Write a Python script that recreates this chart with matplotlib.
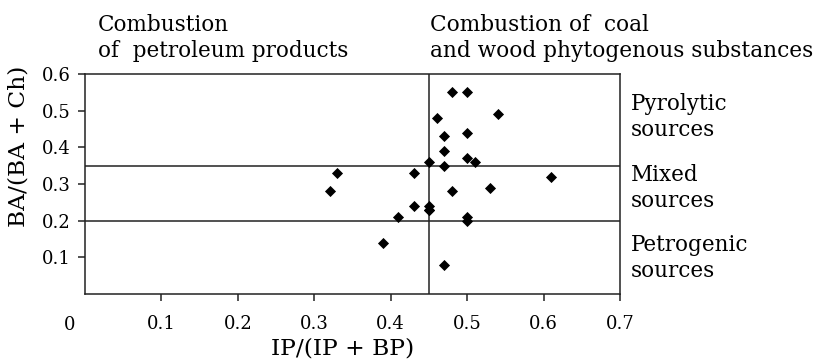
import matplotlib
matplotlib.use("Agg")
import matplotlib.pyplot as plt

# IP/(IP+BP) vs BA/(BA+Ch) diagnostic ratios
ip_ratio = [0.48, 0.50, 0.54, 0.46, 0.47, 0.50, 0.47, 0.50, 0.51, 0.45,
            0.47, 0.33, 0.43, 0.61, 0.32, 0.48, 0.53, 0.43, 0.45, 0.45,
            0.41, 0.50, 0.50, 0.39, 0.47, 0.45]
ba_ratio = [0.55, 0.55, 0.49, 0.48, 0.43, 0.44, 0.39, 0.37, 0.36, 0.36,
            0.35, 0.33, 0.33, 0.32, 0.28, 0.28, 0.29, 0.24, 0.24, 0.23,
            0.21, 0.21, 0.20, 0.14, 0.08, 0.23]

x_split = 0.45
y_splits = [0.35, 0.2]
x_ticks = [0.1, 0.2, 0.3, 0.4, 0.5, 0.6, 0.7]
y_ticks = [0.1, 0.2, 0.3, 0.4, 0.5, 0.6]
zone_labels = ["Pyrolytic\nsources", "Mixed\nsources", "Petrogenic\nsources"]

plt.rcParams["font.family"] = ["DejaVu Serif"]

fig = plt.figure(figsize=(8.18, 3.61), dpi=100)
ax = fig.add_axes([85 / 818, 1 - 294 / 361, 535 / 818, 220 / 361])

ax.scatter(ip_ratio, ba_ratio, marker="D", s=32, color="black", zorder=3, linewidths=0)
ax.axvline(x_split, color="#222222", lw=1.1)
for y in y_splits:
    ax.axhline(y, color="#222222", lw=1.1)

ax.set_xlim(0, 0.7)
ax.set_ylim(0, 0.6)
ax.set_xticks(x_ticks)
ax.set_yticks(y_ticks)
ax.set_xticklabels([f"{t:.1f}" for t in x_ticks])
ax.set_yticklabels([f"{t:.1f}" for t in y_ticks])
ax.tick_params(direction="out", length=5, width=1.1, labelsize=13, color="#222222")
ax.tick_params(axis="x", pad=10)
ax.tick_params(axis="y", pad=5)
for sp in ax.spines.values():
    sp.set_linewidth(1.1)
    sp.set_color("#222222")

ax.set_xlabel("IP/(IP + BP)", fontsize=16.8)
ax.set_ylabel("BA/(BA + Ch)", fontsize=16.8)
ax.xaxis.set_label_coords(0.482, -0.20)
ax.yaxis.set_label_coords(-0.103, 0.673)

fig.text(70 / 818, 1 - 325 / 361, "0", ha="center", va="center", fontsize=13)

fig.text(98 / 818, 1 - 38 / 361, "Combustion\nof  petroleum products",
         ha="left", va="center", fontsize=15.5, linespacing=1.2)
fig.text(430 / 818, 1 - 38 / 361, "Combustion of  coal\nand wood phytogenous substances",
         ha="left", va="center", fontsize=15.6, linespacing=1.2)

for label, yc in zip(zone_labels, [117, 188, 258]):
    fig.text(631 / 818, 1 - yc / 361, label, ha="left", va="center",
             fontsize=15.5, linespacing=1.2)

fig.savefig("out.png", dpi=100)
